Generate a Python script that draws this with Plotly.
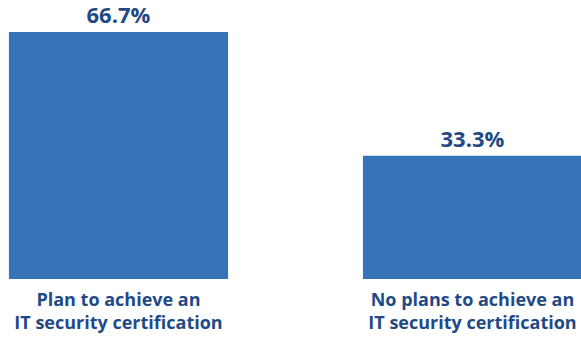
import plotly.graph_objects as go

categories = ["Plan to achieve an<br>IT security certification",
              "No plans to achieve an<br>IT security certification"]
values = [66.7, 33.3]
value_labels = ["66.7%", "33.3%"]

BAR = "#3574B8"
TXT = "#1F4A86"
FONT = "Open Sans"

x_pos = list(range(len(categories)))

fig = go.Figure(go.Bar(
    x=x_pos, y=values, width=0.619,
    marker=dict(color=BAR, line=dict(width=0)),
    text=value_labels, textposition="outside",
    textfont=dict(family=FONT, size=22, color=TXT, weight="bold"),
    cliponaxis=False,
    hoverinfo="skip",
))

fig.update_layout(
    width=581, height=338,
    margin=dict(l=0, r=0, t=0, b=59),
    paper_bgcolor="white", plot_bgcolor="white",
    showlegend=False,
    font=dict(family=FONT),
    xaxis=dict(range=[-0.3347, 1.3065], tickvals=x_pos, ticktext=categories,
               showgrid=False, zeroline=False, showline=False, ticks="",
               ticklabelstandoff=8,
               tickfont=dict(family=FONT, size=18, color=TXT, weight="bold")),
    yaxis=dict(range=[0, 75.34], visible=False, showgrid=False, zeroline=False),
)

fig.write_html(
    "out.html",
    config={"displayModeBar": False, "staticPlot": True},
    post_script="document.body.style.margin='0';document.body.style.overflow='hidden';",
)
